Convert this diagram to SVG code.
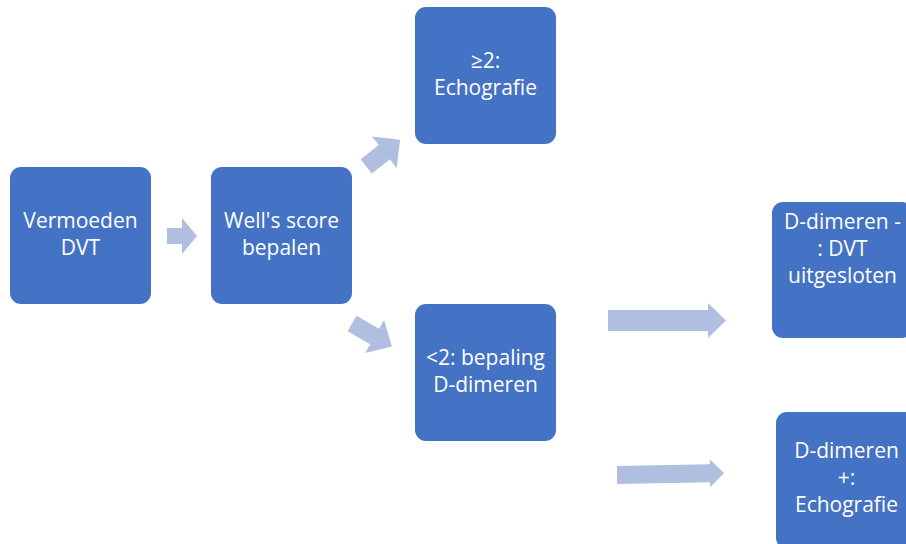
<svg xmlns="http://www.w3.org/2000/svg" width="906" height="544" viewBox="0 0 906 544">
<style>
.node{fill:#4472C4;}
.arr{fill:#B0BEDF;}
text{font-family:"Open Sans","Liberation Sans",sans-serif;font-size:21px;fill:#FFFFFF;text-anchor:middle;}
</style>
<rect width="906" height="544" fill="#FFFFFF"/>
<g id="connectors">
<polygon class="arr" points="167,228 182,228 182,218 197,236 182,254 182,244 167,244"/>
<polygon class="arr" transform="translate(382,154) rotate(-38)" points="-20,-9 3,-9 3,-20 23,0 3,20 3,9 -20,9"/>
<polygon class="arr" transform="translate(372,335) rotate(30)" points="-23,-9 3,-9 3,-19 23,0 3,19 3,9 -23,9"/>
<polygon class="arr" points="608,310 708,310 708,303 726,320.5 708,338 708,331 608,331"/>
<polygon class="arr" transform="rotate(-1 670 474)" points="617,465 710,465 710,460 724,474 710,488 710,483 617,483"/>
</g>
<g id="n1"><rect class="node" x="10" y="167" width="141" height="137" rx="11"/>
<text x="80.5" y="228">Vermoeden</text><text x="80.5" y="255">DVT</text></g>
<g id="n2"><rect class="node" x="211" y="167" width="141" height="137" rx="11"/>
<text x="281.5" y="228">Well's score</text><text x="281.5" y="255">bepalen</text></g>
<g id="n3"><rect class="node" x="415" y="7" width="141" height="137" rx="11"/>
<text x="485.5" y="68">≥2:</text><text x="485.5" y="95">Echografie</text></g>
<g id="n4"><rect class="node" x="415" y="304" width="141" height="137" rx="11"/>
<text x="485.5" y="365">&lt;2: bepaling</text><text x="485.5" y="392">D-dimeren</text></g>
<g id="n5"><rect class="node" x="772" y="202" width="141" height="136" rx="11"/>
<text x="842.5" y="229">D-dimeren -</text><text x="842.5" y="256">: DVT</text><text x="842.5" y="283">uitgesloten</text></g>
<g id="n6"><rect class="node" x="776" y="412" width="141" height="137" rx="11"/>
<text x="846.5" y="458">D-dimeren</text><text x="846.5" y="485">+:</text><text x="846.5" y="512">Echografie</text></g>
</svg>
